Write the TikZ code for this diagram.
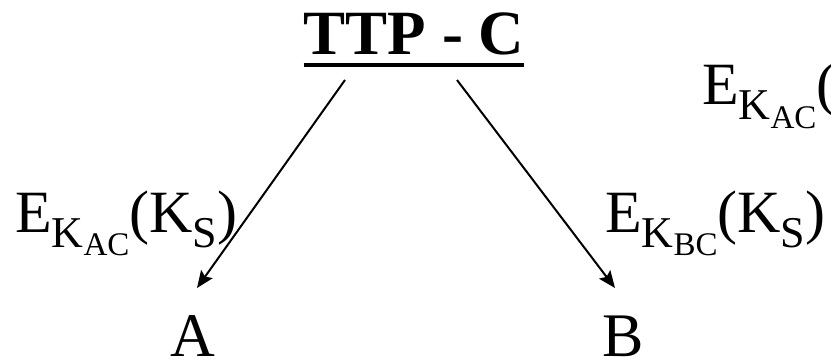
\documentclass[tikz,border=0pt]{standalone}
\usepackage{fontspec}
\setmainfont{Liberation Serif}
\usetikzlibrary{positioning, arrows.meta, calc}
\newcommand{\lowsub}[3]{\raisebox{-#2}{\fontsize{#1}{#1}\selectfont #3}}
\tikzset{
  label/.style={inner sep=0pt, font=\fontsize{60}{72}\selectfont},
  party/.style={inner sep=0pt, font=\fontsize{62}{72}\selectfont},
  head/.style={inner sep=0pt, font=\fontsize{63}{72}\selectfont\bfseries},
  flow/.style={-{Stealth[length=17pt, width=14pt, inset=3pt]}, line width=2pt},
}
\begin{document}
\begin{tikzpicture}[x=1pt, y=-1pt]
  \useasboundingbox (0,0) rectangle (831,361);
  \node[head, anchor=base] (ttp) at (414,55) {TTP - C};
  \draw[line width=4.5pt] ([yshift=-10pt]ttp.base west) -- ([yshift=-10pt]ttp.base east);
  \node[party, anchor=base] (a) at (193,356) {A};
  \node[party, anchor=base] (b) at (623,356) {B};
  \node[label, anchor=base west] (kac) at (15,232) {E\lowsub{44pt}{15pt}{K\lowsub{33pt}{9pt}{AC}}(K\lowsub{44pt}{15pt}{S})};
  \node[label, anchor=base west] (kbc) at (605,232) {E\lowsub{44pt}{15pt}{K\lowsub{33pt}{9pt}{BC}}(K\lowsub{44pt}{15pt}{S})};
  \node[label, anchor=base west] (top) at (702,105) {E\lowsub{44pt}{15pt}{K\lowsub{33pt}{9pt}{AC}}(};
  % arrow ends
  \coordinate (ttp-l) at ($(ttp.base)+(-69,25)$);
  \coordinate (ttp-r) at ($(ttp.base)+(43,25)$);
  \coordinate (a-in) at ($(a.base)+(4,-68)$);
  \coordinate (b-in) at ($(b.base)+(-8,-68)$);
  \draw[flow] (ttp-l) -- (a-in);
  \draw[flow] (ttp-r) -- (b-in);
\end{tikzpicture}
\end{document}
